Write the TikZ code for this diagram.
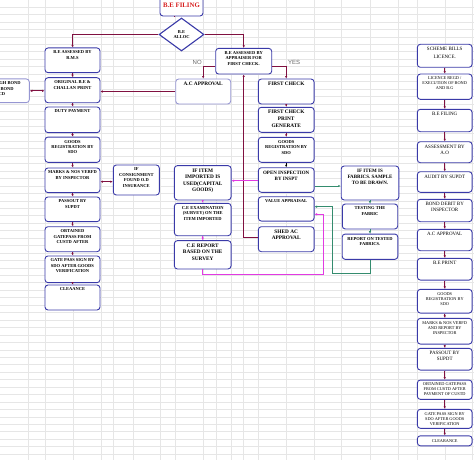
\documentclass[tikz,border=0pt]{standalone}
\usepackage{fontspec}
\setmainfont{Liberation Serif}
\newfontfamily\labelfont{Liberation Sans}
\usetikzlibrary{arrows.meta, positioning, shapes.geometric}

\definecolor{boxblue}{RGB}{58,58,168}
\definecolor{paleblue}{RGB}{150,150,210}
\definecolor{maroonline}{RGB}{128,16,64}
\definecolor{pinkline}{RGB}{226,58,226}
\definecolor{greenline}{RGB}{52,140,110}
\definecolor{gridgray}{RGB}{230,230,230}
\definecolor{titlered}{RGB}{215,30,30}

% box text, top aligned like the sheet's text boxes
\newcommand{\bt}[3]{\parbox[c][\dimexpr#2pt-6pt\relax][t]{\dimexpr#1pt-2pt\relax}{\centering #3}}

\begin{document}
\begin{tikzpicture}[
        x=1pt, y=1pt,
        box/.style={draw=boxblue, fill=white, line width=0.9pt, rounded corners=3pt, inner xsep=1pt, inner ysep=3pt, font=\bfseries\fontsize{4.5}{5.4}\selectfont},
        bigbox/.style={box, font=\bfseries\fontsize{5.3}{6.6}\selectfont},
        midbox/.style={box, font=\bfseries\fontsize{5}{6}\selectfont},
        listbox/.style={box, font=\fontsize{5}{6}\selectfont},
        smallbox/.style={box, font=\fontsize{4.3}{5}\selectfont},
        decision/.style={diamond, draw=boxblue, fill=white, line width=1.1pt, aspect=1.4, minimum width=45pt, minimum height=33pt, inner sep=0pt, align=center, font=\bfseries\fontsize{4.5}{5.4}\selectfont},
        arrow/.style={-{Latex[length=2.5pt, width=2.4pt]}, maroonline, line width=0.8pt},
        pinkarrow/.style={arrow, pinkline},
        greenarrow/.style={arrow, greenline},
        blackarrow/.style={arrow, black},
        both/.style={{Latex[length=2.5pt, width=2.4pt]}-{Latex[length=2.5pt, width=2.4pt]}, maroonline, line width=0.8pt},
        lbl/.style={font=\labelfont\fontsize{6}{7}\selectfont, text=black!60}
        ]

        \useasboundingbox (0,0) rectangle (474,-460);
        \clip (0,0) rectangle (474,-460);

        % sheet grid
        \foreach \gy in {0,...,61}
            \draw[gridgray, line width=0.4pt] (0,{-7-7.45*\gy}) -- (474,{-7-7.45*\gy});
        \foreach \gx in {28,45,73,101,113,133,160,175,203,216,231,243,258,286,314,341,370,398,417,445,472}
            \draw[gridgray, line width=0.4pt] (\gx,0) -- (\gx,-460);

        % Top
        \node[box, font=\bfseries\fontsize{6.8}{8}\selectfont, text=titlered, minimum width=43pt, minimum height=22pt] (BE_filing) at (181.5,-5) {B.E FILING};
        \node[decision] (BE_alloc) at (181.5,-34.5) {B.E\\ALLOC};
        \node[box] (Appraiser) at (243.7,-61.2) {\bt{56}{25.7}{B.E ASSESSED BY\\APPRAISER FOR\\FIRST CHECK.}};
        \node[bigbox, draw=paleblue] (AC_appr) at (203.2,-91.5) {\bt{55}{25}{A.C APPROVAL}};

        % Left column
        \node[box] (RMS_assess) at (72.5,-60.3) {\bt{55}{24.7}{B.E ASSESSED BY\\R.M.S}};
        \node[box] (Orig_print) at (72.5,-90.2) {\bt{55}{25}{ORIGINAL B.E \&\\CHALLAN PRINT}};
        \node[box, draw=paleblue] (Bond_cd) at (1.8,-90.8) {\bt{55}{23.7}{THROUGH BOND\\ADD BOND\\CD}};
        \node[box] (Duty_pay) at (72.5,-119.8) {\bt{55}{25.7}{DUTY PAYMENT}};
        \node[box] (Goods_reg) at (72.5,-149.7) {\bt{55}{25.3}{GOODS\\REGISTRATION BY\\SDO}};
        \node[box] (Marks_verfd) at (72.5,-180.3) {\bt{55}{24.7}{MARKS \& NOS VERFD\\BY INSPECTOR}};
        \node[box] (Consign) at (136.3,-180) {\bt{46}{30}{IF\\CONSIGNMENT\\FOUND O.D\\INSURANCE}};
        \node[box] (Passout) at (72.5,-209.3) {\bt{55}{24.7}{PASSOUT BY\\SUPDT}};
        \node[box] (Gatepass) at (72.5,-239.2) {\bt{55}{25}{OBTAINED\\GATEPASS FROM\\CUSTD AFTER}};
        \node[box] (Gate_sign) at (72.5,-269.3) {\bt{55}{26.7}{GATE PASS SIGN BY\\SDO AFTER GOODS\\VERIFICATION}};
        \node[box] (Clearance) at (72.5,-297.5) {\bt{55}{25}{CLEAANCE}};

        % Middle column
        \node[bigbox] (First_check) at (286.2,-91.5) {\bt{55.7}{25}{FIRST CHECK}};
        \node[bigbox] (Check_print) at (286.2,-119.8) {\bt{55.7}{25}{FIRST CHECK\\PRINT\\GENERATE}};
        \node[box] (Goods_reg2) at (286.2,-149.8) {\bt{55.7}{25}{GOODS\\REGISTRATION BY\\SDO}};
        \node[midbox] (Open_insp) at (286.2,-180) {\bt{55.7}{24.6}{OPEN INSPECTION\\BY INSPT}};
        \node[box] (Value_appr) at (286.2,-208.9) {\bt{55.7}{24.3}{VALUE APPRAISAL}};
        \node[bigbox] (Shed_appr) at (286.2,-239.2) {\bt{55.7}{25}{SHED AC\\APPROVAL}};

        \node[bigbox] (IF_capital) at (202.7,-182.8) {\bt{56.7}{34.3}{IF ITEM\\IMPORTED IS\\USED(CAPITAL\\GOODS)}};
        \node[box] (CE_exam) at (202.7,-219.5) {\bt{56.7}{32.4}{C.E EXAMINATION\\(SURVEY) ON THE\\ITEM IMPORTED}};
        \node[bigbox] (CE_report) at (202.7,-254.8) {\bt{56.7}{28.3}{C.E REPORT\\BASED ON THE\\SURVEY}};

        \node[midbox] (Fabric_sample) at (370,-183) {\bt{57.6}{34}{IF ITEM IS\\FABRICS. SAMPLE\\TO BE DRAWN.}};
        \node[box] (Fabric_test) at (370,-216.5) {\bt{55.4}{25}{TESTING THE\\FABRIC}};
        \node[box] (Fabric_report) at (370,-246.7) {\bt{55.6}{25.3}{REPORT ON TESTED\\FABRICS.}};

        % Right column
        \node[listbox] (Scheme) at (444.7,-55.8) {\bt{54.7}{23}{SCHEME BILLS\\[1.4pt]LICENCE.}};
        \node[smallbox] (Licence_regd) at (444.7,-86.7) {\bt{54.7}{25.3}{LICENCE REGD /\\EXECUTION OF BOND\\AND B.G}};
        \node[listbox] (BE_filing2) at (444.7,-120.5) {\bt{54.7}{22.4}{B.E FILING}};
        \node[listbox] (Assess_AO) at (444.7,-152.2) {\bt{54.7}{21}{ASSESSMENT BY\\A.O}};
        \node[listbox] (Audit) at (444.7,-182) {\bt{54.7}{20.6}{AUDIT BY SUPDT}};
        \node[listbox] (Bond_debit) at (444.7,-210.5) {\bt{54.7}{22.4}{BOND DEBIT BY\\INSPECTOR}};
        \node[listbox] (AC_appr2) at (444.7,-240) {\bt{54.7}{21.4}{A.C APPROVAL}};
        \node[listbox] (BE_print) at (444.7,-269.2) {\bt{54.7}{21.7}{B.E PRINT}};
        \node[smallbox] (Goods_reg3) at (444.7,-301.2) {\bt{54.7}{23.7}{GOODS\\REGISTRATION BY\\SDO}};
        \node[smallbox] (Marks_report) at (444.7,-331.2) {\bt{54.7}{25.7}{MARKS \& NOS VERFD\\AND REPORT BY\\INSPECTOR}};
        \node[listbox] (Passout2) at (444.7,-359.2) {\bt{54.7}{21.7}{PASSOUT BY\\SUPDT}};
        \node[smallbox] (Gatepass2) at (444.7,-389.7) {\bt{54.7}{19.3}{OBTAINED GATEPASS\\FROM CUSTD AFTER\\PAYMENT OF CUSTD}};
        \node[smallbox] (Gate_sign2) at (444.7,-418.8) {\bt{54.7}{19}{GATE PASS SIGN BY\\SDO AFTER GOODS\\VERIFICATION}};
        \node[smallbox, minimum width=54.7pt, minimum height=10pt, inner ysep=0.5pt] (Clearance2) at (444.7,-440.8) {CLEARANCE};

        % Connectors
        \draw [maroonline, line width=0.8pt] ([xshift=-7pt]BE_filing.south) -- ([xshift=-7pt]BE_filing.south |- BE_alloc.north);
        \draw [arrow] (BE_alloc.west) -| (RMS_assess.north);
        \draw [arrow] (BE_alloc.east) -| (Appraiser.north);
        \draw [arrow] ([yshift=-5.5pt]Appraiser.west) -| node[lbl, pos=0.5, xshift=-6pt, yshift=4.5pt] (no_lbl) {NO} (AC_appr.north);
        \draw [arrow] ([yshift=-5.5pt]Appraiser.east) -| node[lbl, pos=0.5, xshift=8pt, yshift=4.5pt] (yes_lbl) {YES} (First_check.north);
        \draw [arrow] (AC_appr.west) -- (AC_appr.west -| Orig_print.east);
        \draw [both] (Bond_cd.east) -- (Bond_cd.east -| Orig_print.west);

        \draw [arrow] (RMS_assess) -- (Orig_print);
        \draw [arrow] (Orig_print) -- (Duty_pay);
        \draw [arrow] (Duty_pay) -- (Goods_reg);
        \draw [arrow] (Goods_reg) -- (Marks_verfd);
        \draw [arrow] (Marks_verfd) -- (Passout);
        \draw [arrow] (Passout) -- (Gatepass);
        \draw [arrow] (Gatepass) -- (Gate_sign);
        \draw [arrow] (Gate_sign) -- (Clearance);
        \draw [both] ([yshift=-1.4pt]Marks_verfd.east) -- ([yshift=-1.4pt]Marks_verfd.east -| Consign.west);

        \draw [arrow] (First_check) -- (Check_print);
        \draw [arrow] (Check_print) -- (Goods_reg2);
        \draw [blackarrow] (Goods_reg2) -- (Open_insp);
        \draw [arrow] ([yshift=1.5pt]Shed_appr.west) -| (Appraiser.south);

        \draw [pinkarrow] ([yshift=-0.7pt]Open_insp.west) -- ([yshift=-0.7pt]Open_insp.west -| IF_capital.east);
        \draw [pinkarrow] (IF_capital) -- (CE_exam);
        \draw [pinkarrow] (CE_exam) -- (CE_report);
        \draw [pinkarrow] (CE_report.south) -- ++(0,-5) -| ([xshift=9.3pt, yshift=-5.4pt]Value_appr.east) -- ([yshift=-5.4pt]Value_appr.east);

        \draw [greenarrow] ([yshift=-6pt]Open_insp.east) -- ([yshift=-6pt]Open_insp.east -| Fabric_sample.west);
        \draw [greenarrow] (Fabric_sample) -- (Fabric_test);
        \draw [greenarrow] (Fabric_test) -- (Fabric_report);
        \draw [greenarrow] (Fabric_report.south) -- ++(0,-14) -| ([xshift=17.7pt, yshift=2.2pt]Value_appr.east) -- ([yshift=2.2pt]Value_appr.east);

        \draw [arrow] (Scheme) -- (Licence_regd);
        \draw [arrow] (Licence_regd) -- (BE_filing2);
        \draw [arrow] (BE_filing2) -- (Assess_AO);
        \draw [arrow] (Assess_AO) -- (Audit);
        \draw [arrow] (Audit) -- (Bond_debit);
        \draw [arrow] (Bond_debit) -- (AC_appr2);
        \draw [arrow] (AC_appr2) -- (BE_print);
        \draw [arrow] (BE_print) -- (Goods_reg3);
        \draw [arrow] (Goods_reg3) -- (Marks_report);
        \draw [arrow] (Marks_report) -- (Passout2);
        \draw [arrow] (Passout2) -- (Gatepass2);
        \draw [arrow] (Gatepass2) -- (Gate_sign2);
        \draw [arrow] (Gate_sign2) -- (Clearance2);

\end{tikzpicture}
\end{document}
